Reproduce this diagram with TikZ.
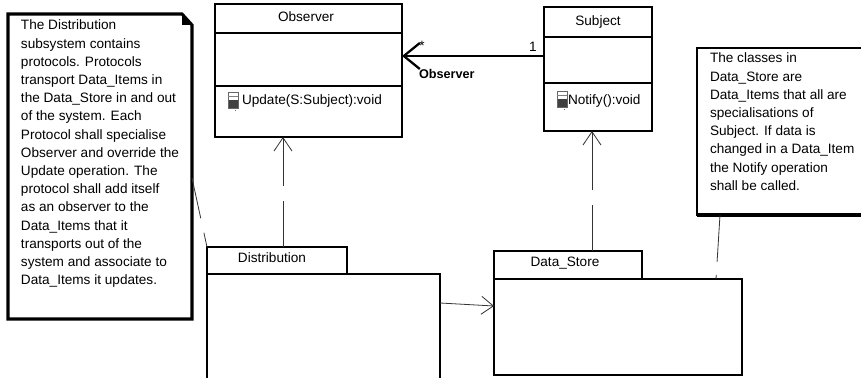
\documentclass[tikz,border=0pt]{standalone}
\usepackage{fontspec}
\setmainfont{Liberation Sans}
\usetikzlibrary{arrows.meta}
\begin{document}
\begin{tikzpicture}[x=0.75pt,y=-0.75pt,
  box/.style={draw=black, line width=1.2pt, anchor=north west, inner sep=0pt, outer sep=0pt, fill=white},
  sepline/.style={line width=1.1pt},
  txt/.style={font=\fontsize{10.2}{13.65}\selectfont, inner sep=0pt, outer sep=0pt},
  gen/.style={line width=0.6pt, draw=black!80, -{Straight Barb[length=10pt,width=13.5pt]}},
  assoc/.style={line width=1.7pt, -{Straight Barb[length=12pt,width=19.5pt]}},
  notelink/.style={line width=0.6pt, draw=black!80},
  opicon/.pic={
    \fill[white] (0,0) rectangle (10,8);
    \fill[black!75] (0,8) rectangle (10,16);
    \draw[black!60, line width=0.5pt] (0,0) rectangle (10,16);
    \draw[black!50, line width=0.5pt] (0,4) -- (10,4);
    \fill[black!60] (7,18) rectangle (8,19);
  }
]
\useasboundingbox (0,0) rectangle (861,378);
\clip (0,0) rectangle (861,378);
\fill[white] (0,0) rectangle (861,378);

% classes
\node[box, minimum width=140.25pt, minimum height=99.75pt] (obs) at (215,4) {};
\draw[sepline] (obs.west |- 0,33) -- (obs.east |- 0,33);
\draw[sepline] (obs.west |- 0,86) -- (obs.east |- 0,86);
\node[txt, anchor=base] (obsname) at (306,22) {Observer};
\pic at (228,92) {opicon};
\node[txt, anchor=base west] (upd) at (242,105) {Update(S:Subject):void};

\node[box, minimum width=81pt, minimum height=93pt] (subj) at (544,7) {};
\draw[sepline] (subj.west |- 0,37) -- (subj.east |- 0,37);
\draw[sepline] (subj.west |- 0,83) -- (subj.east |- 0,83);
\node[txt, anchor=base] (subjname) at (598,26) {Subject};
\pic at (557,91) {opicon};
\node[txt, anchor=base west] (ntf) at (568,105) {Notify():void};

% packages
\node[box, minimum width=105pt, minimum height=20.25pt] (dtab) at (207,247) {};
\node[box, minimum width=174.75pt, minimum height=112.5pt] (dbody) at (207,274) {};
\node[txt, anchor=base] (dname) at (272,262) {Distribution};

\node[box, minimum width=111pt, minimum height=21pt] (stab) at (494,251) {};
\node[box, minimum width=186pt, minimum height=72pt] (sbody) at (494,279) {};
\node[txt, anchor=base] (sname) at (565,266) {Data\_Store};

% notes
\node[anchor=north west, inner sep=0pt, outer sep=0pt, minimum width=138pt, minimum height=228.75pt] (lnote) at (8,14) {};
\draw[line width=2.3pt, fill=white] (lnote.north west) -- ([xshift=-7.5pt]lnote.north east) -- ([yshift=-8.25pt]lnote.north east) -- (lnote.south east) -- (lnote.south west) -- cycle;
\fill ([xshift=-7.5pt]lnote.north east) -- ([xshift=-7.5pt,yshift=-8.25pt]lnote.north east) -- ([yshift=-8.25pt]lnote.north east) -- cycle;
\node[txt, anchor=north west, align=left] (ltext) at (21,20) {The Distribution\\subsystem contains\\protocols. Protocols\\transport Data\_Items in\\the Data\_Store in and out\\of the system. Each\\Protocol shall specialise\\Observer and override the\\Update operation. The\\protocol shall add itself\\as an observer to the\\Data\_Items that it\\transports out of the\\system and associate to\\Data\_Items it updates.};

\node[anchor=north west, inner sep=0pt, outer sep=0pt, minimum width=135pt, minimum height=125.25pt] (rnote) at (697,48) {};
\draw[line width=1.6pt, fill=white] (rnote.north east) -- (rnote.north west) -- (rnote.south west) -- (rnote.south east);
\draw[line width=2.4pt] (rnote.south west) -- (rnote.south east);
\node[txt, anchor=north west, align=left] (rtext) at (710,53) {The classes in\\Data\_Store are\\Data\_Items that all are\\specialisations of\\Subject. If data is\\changed in a Data\_Item\\the Notify operation\\shall be called.};

% connectors
\draw[assoc] (subj.west |- 0,56) -- (obs.east |- 0,56);
\node[txt, anchor=base] (mstar) at (422,51) {*};
\node[txt, anchor=base] (mone) at (533,52) {1};
\node[txt, font={\fontsize{9.5}{12}\selectfont\bfseries}, anchor=base west] (role) at (419,79) {Observer};

\draw[gen, dash pattern=on 34.5pt off 11.25pt on 300pt] (dtab.north -| 283,0) -- (obs.south -| 283,0);
\draw[gen, dash pattern=on 34.5pt off 11.25pt on 300pt] (stab.north -| 592,0) -- (subj.south -| 592,0);
\draw[gen, -{Straight Barb[length=9pt,width=13.5pt]}] (dbody.east |- 0,303) -- (sbody.west |- 0,306);
\draw[notelink, dash pattern=on 31pt off 11pt on 300pt] (lnote.east |- 0,178) -- (dtab.north west);
\draw[notelink, dash pattern=on 35pt off 10pt on 300pt] (rnote.south -| 720,0) -- (sbody.north -| 716,0);
\end{tikzpicture}
\end{document}
